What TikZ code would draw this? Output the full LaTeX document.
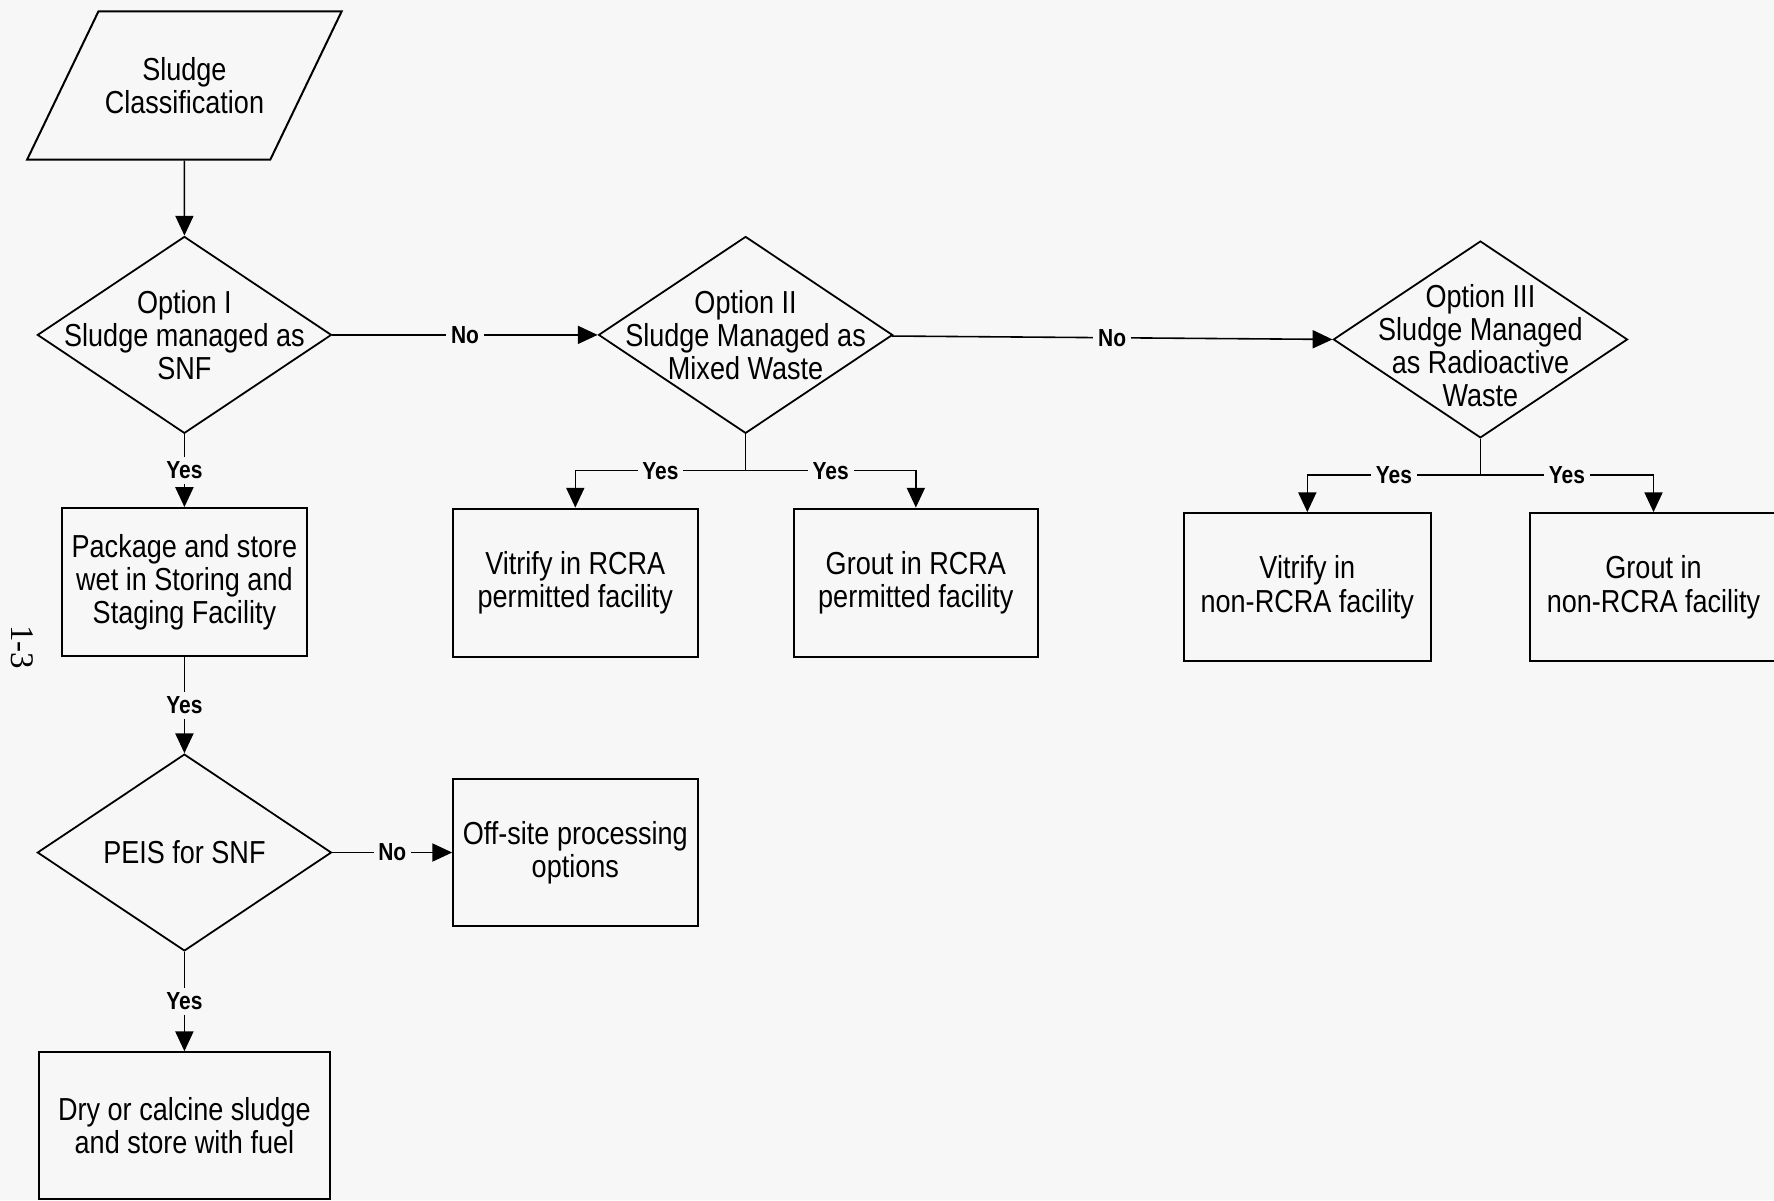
\documentclass[tikz,border=0pt]{standalone}
\usepackage{fontspec}
\setmainfont{Liberation Sans}[FakeStretch=0.85]
\newfontfamily\pagefont{Liberation Serif}
\usetikzlibrary{shapes.geometric, arrows.meta, positioning}
\definecolor{scanbg}{RGB}{247,247,247}
\tikzset{
	block/.style    = {draw, line width=0.5pt, fill=scanbg, rectangle, align=center, minimum width=2.16cm, minimum height=1.31cm, inner sep=1pt, font=\fontsize{8}{8.35}\selectfont},
	decision/.style = {draw, line width=0.45pt, fill=scanbg, diamond, aspect=1.48, align=center, minimum width=2.6cm, minimum height=1.74cm, inner sep=-6.5pt, font=\fontsize{8}{8.35}\selectfont},
	data/.style     = {draw, line width=0.5pt, fill=scanbg, trapezium, trapezium left angle=64.3, trapezium right angle=115.7, trapezium stretches body, minimum width=2.78cm, inner xsep=1pt, inner ysep=0.405cm, align=center, font=\fontsize{8}{8.35}\selectfont},
	answer/.style   = {fill=scanbg, inner sep=1.2pt, font=\fontsize{6.2}{7}\selectfont\bfseries},
	hidden/.style   = {coordinate},
}

\begin{document}
\begin{tikzpicture}[>={Triangle[length=1.75mm, width=1.6mm]}, line width=0.4pt]
	% Page size and scanned background
	\fill[scanbg, use as bounding box] (0,0) rectangle (15.68,-10.61);
	\node[rotate=-90, font=\pagefont\fontsize{8.3}{9}\selectfont] (pagenum) at (0.20,-5.72) {1-3};

	% Draw the main column
	\draw
	node[data] at (1.63,-0.755) (classif) {Sludge\\Classification}
	node[decision, below of = classif, node distance = 2.205cm] (optI) {Option I\\Sludge managed as\\SNF}
	node[block   , below of = optI   , node distance = 2.185cm] (package) {Package and store\\wet in Storing and\\Staging Facility}
	node[decision, below of = package, node distance = 2.39cm ] (peis) {PEIS for SNF}
	node[block   , below of = peis   , node distance = 2.415cm, minimum width = 2.57cm, minimum height = 1.30cm] (dry) {Dry or calcine sludge\\and store with fuel}
	node[block   , right of = peis   , node distance = 3.455cm, minimum height = 1.30cm] (offsite) {Off-site processing\\options};

	% Draw the other options
	\draw
	node[decision, right of = optI , node distance = 4.96cm ] (optII) {Option II\\Sludge Managed as\\Mixed Waste}
	node[decision, right of = optII, node distance = 6.495cm, yshift = -0.04cm, text height = 1.195cm] (optIII) {Option III\\Sludge Managed\\as Radioactive\\Waste}
	node[hidden  , below of = optII , node distance = 1.20cm] (forkII) {}
	node[hidden  , below of = optIII, node distance = 1.20cm] (forkIII) {};

	% Draw the treatment boxes
	\draw
	node[block, below of = optII , node distance = 2.19cm, xshift = -1.505cm] (vitrcra) {Vitrify in RCRA\\permitted facility}
	node[block, below of = optII , node distance = 2.19cm, xshift =  1.505cm] (groutrcra) {Grout in RCRA\\permitted facility}
	node[block, below of = optIII, node distance = 2.19cm, xshift = -1.53cm , minimum width = 2.18cm] (vitnon) {Vitrify in\\non-RCRA facility}
	node[block, below of = optIII, node distance = 2.19cm, xshift =  1.53cm , minimum width = 2.18cm] (groutnon) {Grout in\\non-RCRA facility};

	% Connect everything together
	\draw[->] (classif) -- (optI);
	\draw[->] (optI) -- (package) node[answer, midway] {Yes};
	\draw[->] (package) -- (peis) node[answer, midway] {Yes};
	\draw[->] (peis) -- (dry) node[answer, midway] {Yes};
	\draw[->] (peis) -- (offsite) node[answer, midway] {No};
	\draw[->] (optI) -- (optII) node[answer, midway] {No};
	\draw[->] (optII) -- (optIII.west) node[answer, midway] {No};

	% Draw the yes branches
	\draw (optII) -- (forkII);
	\draw[->] (forkII) -| (vitrcra) node[answer, pos=0.25] {Yes};
	\draw[->] (forkII) -| (groutrcra) node[answer, pos=0.25] {Yes};
	\draw (optIII) -- (forkIII);
	\draw[->] (forkIII) -| (vitnon) node[answer, pos=0.25] {Yes};
	\draw[->] (forkIII) -| (groutnon) node[answer, pos=0.25] {Yes};
\end{tikzpicture}
\end{document}
